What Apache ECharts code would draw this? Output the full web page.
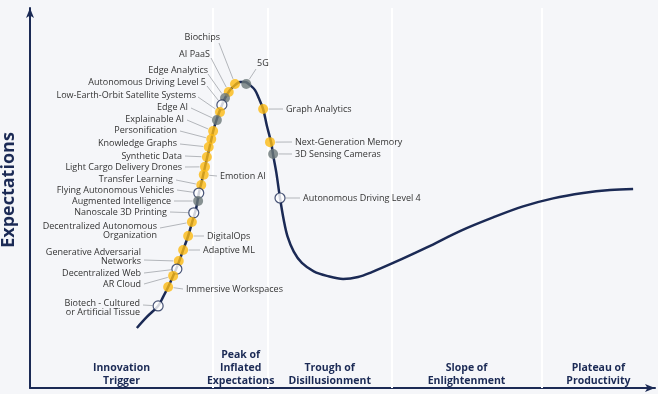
<!DOCTYPE html>
<html><head><meta charset="utf-8">
<script src="https://cdn.jsdelivr.net/npm/echarts@6/dist/echarts.min.js"></script>
<style>html,body{margin:0;padding:0;background:#f5f6f9}#c{width:658px;height:394px}</style>
</head><body><div id="c"></div>
<script>
// Hype curve (time vs expectations, 0-100 scales)
const curveX = [17.1,18.7,20.5,21.3,22.1,22.9,23.7,24.5,25.3,25.9,26.6,27.0,27.5,28.0,28.5,29.0,29.4,29.9,30.6,31.2,32.0,32.8,33.6,34.4,35.2,36.0,36.6,37.3,37.9,38.6,38.9,39.4,40.0,40.6,41.2,42.2,43.5,45.4,47.5,50.1,52.5,54.7,58.1,63.5,68.8,74.1,78.9,83.7,88.5,92.8,96.5];
const curveY = [15.8,18.7,21.6,24.0,26.6,29.5,32.6,36.3,40.0,43.4,47.4,51.1,54.5,58.2,61.8,65.3,68.2,70.8,74.0,76.3,78.4,79.7,80.5,80.5,79.7,78.4,76.3,73.4,69.0,64.5,61.3,56.8,50.0,44.2,39.9,35.9,32.9,30.7,29.5,28.7,29.2,30.5,32.9,37.0,41.3,44.9,47.8,49.9,51.3,52.1,52.4];

const techNames = ['Biochips','AI PaaS','Edge Analytics','Autonomous Driving Level 5','Low-Earth-Orbit Satellite Systems','Edge AI','Explainable AI','Personification','Knowledge Graphs','Synthetic Data','Light Cargo Delivery Drones','Emotion AI','Transfer Learning','Flying Autonomous Vehicles','Augmented Intelligence','Nanoscale 3D Printing','Decentralized Autonomous\nOrganization','DigitalOps','Adaptive ML','Generative Adversarial\nNetworks','Decentralized Web','AR Cloud','Immersive Workspaces','Biotech - Cultured\nor Artificial Tissue','5G','Graph Analytics','Next-Generation Memory','3D Sensing Cameras','Autonomous Driving Level 4'];
const techX = [32.8,31.8,31.2,30.7,30.4,29.9,29.3,29.0,28.6,28.3,28.0,27.8,27.4,27.0,26.9,26.2,25.9,25.3,24.5,23.8,23.5,22.9,22.1,20.5,34.6,37.3,38.4,38.9,40.0];
const techY = [80.0,77.9,76.3,74.5,72.6,70.5,67.6,65.5,63.4,60.8,58.2,56.1,53.4,51.3,49.2,46.1,43.7,40.0,36.3,33.4,31.3,29.5,26.6,21.6,80.0,73.4,64.7,61.6,50.0];
const techGroup = ['A','A','B','C','A','B','A','A','A','A','A','A','A','C','B','C','A','A','A','A','C','A','A','C','B','A','A','B','C'];

const phaseNames = ['Innovation\nTrigger','Peak of\nInflated\nExpectations','Trough of\nDisillusionment','Slope of\nEnlightenment','Plateau of\nProductivity'];
const phaseBounds = [29.3,38.1,57.8,81.9];

// ---- styles / layout (pixels) ----
const groupStyle = {
  A: {color:'#FDBA12', borderColor:'#FDBA12', borderWidth:0},
  B: {color:'#6C7878', borderColor:'#6C7878', borderWidth:0},
  C: {color:'#ffffff', borderColor:'#1B2A55', borderWidth:1.2}
};
// [align, textX, textY, lineStartX, lineStartY]
const labelLayoutCfg = [
  ['right',220,37,219,43],['right',210,54,211,58],['right',208,70,208,74],['right',206,82,207,86],
  ['right',196,95,198,97],['right',188,107,191,108],['right',184,119,187,120],['right',177,130,180,131],
  ['right',177,143,180,144],['right',182,156,185,156],['right',182,167,185,167],['left',220,176,217,176],
  ['right',173,179,176,180],['right',174,190,177,190],['right',171,201,174,201],['right',167,212,170,212],
  ['right',157,231,160,228],['left',207,236,204,236],['left',203,250,200,250],['right',141,257,144,260],
  ['right',141,273,144,273],['right',141,284,144,284],['left',186,289,183,289],['right',140,308,143,305],
  ['left',257,63,256,69],['left',286,109,283,109],['left',295,142,292,142],['left',295,154,292,154],['left',303,198,300,198]
];
const NAVY = '#1B2A55';
const FONT = '9px "Open Sans"';

const chart = echarts.init(document.getElementById('c'), null, {renderer:'canvas'});

const curveData = curveX.map((x,i)=>[x,curveY[i]]);
const markerData = techX.map((x,i)=>({value:[x,techY[i]], itemStyle:groupStyle[techGroup[i]]}));
const labelData = techX.map((x,i)=>[x,techY[i],i]);
const phaseCenters = phaseNames.map((n,i)=>{
  const a = i===0?0:phaseBounds[i-1]; const b = i===phaseBounds.length?100:phaseBounds[i];
  return [(a+b)/2, 0, i];
});

chart.setOption({
  backgroundColor:'#f5f6f9',
  animation:false,
  grid:{left:30,right:3,top:8,bottom:6,containLabel:false,outerBoundsMode:'none'},
  xAxis:{type:'value',min:0,max:100,
    axisLine:{show:true,lineStyle:{color:NAVY,width:2},symbol:['none','arrow'],symbolSize:[6,10]},
    axisTick:{show:false},axisLabel:{show:false},splitLine:{show:false}},
  yAxis:{type:'value',min:0,max:100,
    name:'Expectations',nameLocation:'middle',nameRotate:90,nameGap:12,
    nameTextStyle:{fontFamily:'Open Sans',fontWeight:'bold',fontSize:18,color:NAVY,padding:[0,0,0,16]},
    axisLine:{show:true,lineStyle:{color:NAVY,width:2},symbol:['none','arrow'],symbolSize:[6,10]},
    axisTick:{show:false},axisLabel:{show:false},splitLine:{show:false}},
  series:[
    {type:'line',data:curveData,smooth:0.35,showSymbol:false,z:2,silent:true,
      lineStyle:{color:NAVY,width:2.5},
      markLine:{silent:true,symbol:'none',label:{show:false},z:1,
        lineStyle:{color:'#ffffff',width:2,type:'solid'},
        data:phaseBounds.map(b=>({xAxis:b}))}},
    {type:'custom',coordinateSystem:'cartesian2d',clip:false,z:3,silent:true,
      data:labelData,
      renderItem:function(params,api){
        const i = api.value(2);
        const p = api.coord([api.value(0),api.value(1)]);
        const c = labelLayoutCfg[i];
        const dx = c[3]-p[0], dy = c[4]-p[1];
        const d = Math.sqrt(dx*dx+dy*dy)||1;
        const ex = p[0]+dx/d*5.5, ey = p[1]+dy/d*5.5;
        return {type:'group',children:[
          {type:'line',shape:{x1:c[3],y1:c[4],x2:ex,y2:ey},style:{stroke:'#b3b6bb',lineWidth:1}},
          {type:'text',style:{text:techNames[i],x:c[1],y:c[2],align:c[0],verticalAlign:'middle',
            font:FONT,fill:'#333333',lineHeight:8.5}}
        ]};
      }},
    {type:'scatter',data:markerData,symbol:'circle',symbolSize:10,z:4,silent:true},
    {type:'custom',coordinateSystem:'cartesian2d',clip:false,z:5,silent:true,
      data:phaseCenters,
      renderItem:function(params,api){
        const i = api.value(2);
        const p = api.coord([api.value(0),api.value(1)]);
        return {type:'text',style:{text:phaseNames[i],x:p[0],y:p[1],align:'center',verticalAlign:'bottom',
          font:'bold 10.5px "Open Sans"',fill:NAVY,lineHeight:13}};
      }}
  ]
});
</script></body></html>
